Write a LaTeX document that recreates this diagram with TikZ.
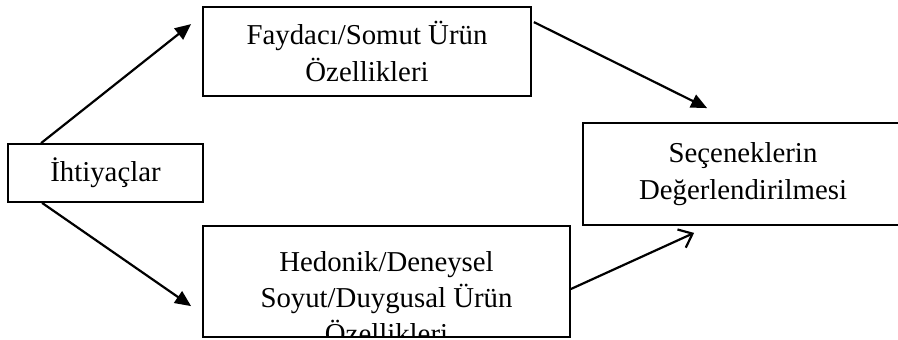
\documentclass[tikz,border=0pt]{standalone}
\usepackage{fontspec}
\setmainfont{Liberation Serif}
\usetikzlibrary{arrows.meta}
\tikzset{kutu/.style={draw, line width=0.9pt, inner sep=0pt, align=center,
        font=\fontsize{14.4}{18.5}\selectfont},
    yazi/.style={inner sep=0pt, align=center, font=\fontsize{14.4}{18}\selectfont},
    ok/.style={-{Triangle[length=8pt,width=7pt]}, line width=1.1pt},
    acikok/.style={-{Straight Barb[length=6pt,width=10pt]}, line width=1.1pt},
    }

\begin{document}
\begin{tikzpicture}[x=0.5pt,y=-0.5pt]
\useasboundingbox (0,0) rectangle (898,339);
\node[kutu, minimum width=97.5pt, minimum height=29pt] (ihtiyac) at (105.5,173) {İhtiyaçlar};
\node[kutu, minimum width=164pt, minimum height=44.5pt] (faydaci) at (367,51.5)
	{Faydacı/Somut Ürün\\Özellikleri};
\node[kutu, minimum width=160pt, minimum height=51pt] (secenek) at (743,174)
	{Seçeneklerin\\Değerlendirilmesi};
\node[kutu, minimum width=183.5pt, minimum height=55.5pt,
	path picture={\node[yazi, anchor=north] (hedyazi)
		at ([yshift=-7.5pt]path picture bounding box.north)
		{Hedonik/Deneysel\\Soyut/Duygusal Ürün\\Özellikleri};}] (hedonik) at (386.5,281.5) {};
\draw[ok] ([xshift=17pt]ihtiyac.north west) -- ([xshift=-5.5pt,yshift=-9pt]faydaci.north west);
\draw[ok] ([xshift=17.5pt]ihtiyac.south west) -- ([xshift=-5.5pt,yshift=-40.5pt]hedonik.north west);
\draw[ok] ([xshift=1pt,yshift=-8pt]faydaci.north east) -- ([xshift=62.5pt,yshift=7pt]secenek.north west);
\draw[acikok] ([yshift=-3.75pt]hedonik.east) -- ([xshift=56pt,yshift=-3.5pt]secenek.south west);
\end{tikzpicture}
\end{document}
